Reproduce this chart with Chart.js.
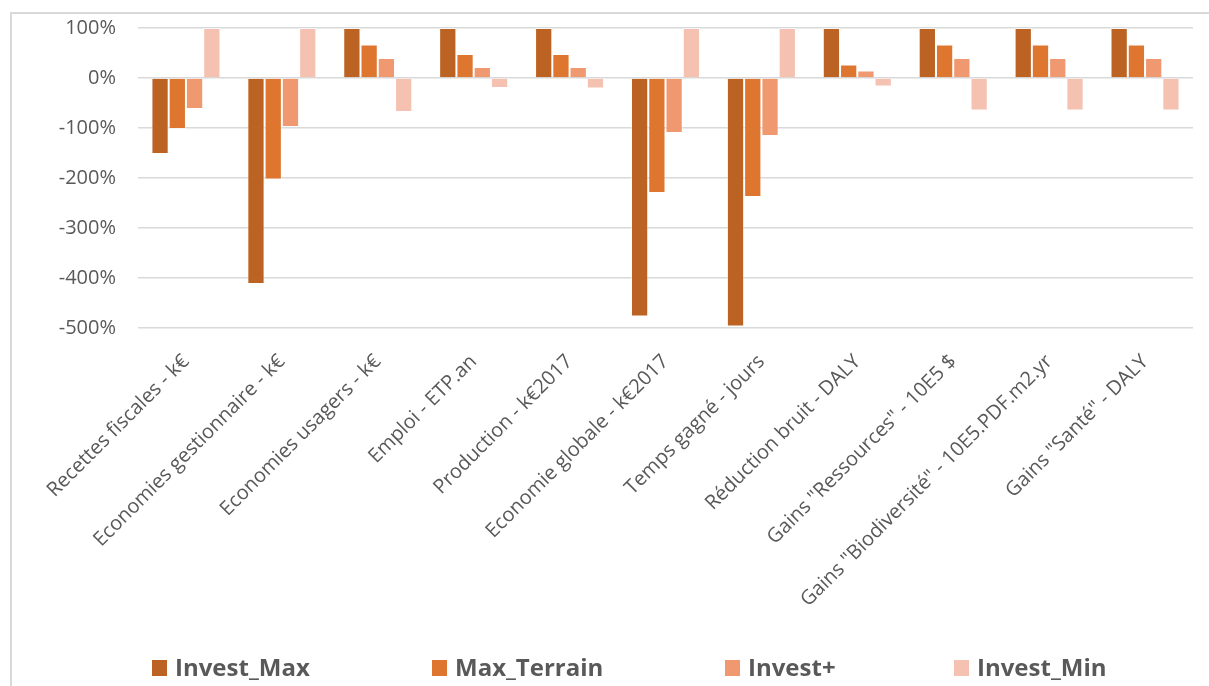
<!DOCTYPE html>
<html>
<head>
<meta charset="utf-8">
<script src="https://cdn.jsdelivr.net/npm/chart.js@4"></script>
<style>
    body { margin: 0; background: #fff; overflow: hidden; }
    #frame {
        position: absolute;
        left: 10px;
        top: 12px;
        width: 1199px;
        height: 674px;
        border-left: 2px solid #D9D9D9;
        border-top: 2px solid #D9D9D9;
    }
</style>
</head>
<body>
<div id="frame">
    <canvas id="impact-chart" width="1197" height="672"></canvas>
</div>
<script>
let categories = [
    "Recettes fiscales - k€",
    "Economies gestionnaire - k€",
    "Economies usagers - k€",
    "Emploi - ETP.an",
    "Production - k€2017",
    "Economie globale - k€2017",
    "Temps gagné - jours",
    "Réduction bruit - DALY",
    "Gains \"Ressources\" - 10E5 $",
    "Gains \"Biodiversité\" - 10E5.PDF.m2.yr",
    "Gains \"Santé\" - DALY"
];
// values in %
let investMax = [-152, -412, 100, 100, 100, -477, -497, 100, 100, 100, 100];
let maxTerrain = [-102, -203, 67, 48, 48, -230, -238, 27, 67, 67, 67];
let investPlus = [-62, -98, 40, 22, 22, -110, -116, 15, 40, 40, 40];
let investMin = [100, 100, -68, -20, -21, 100, 100, -17, -65, -65, -65];
let yTicks = [100, 0, -100, -200, -300, -400, -500];

// left edge of each legend entry (canvas px), excel spreads them unevenly
let legendX = [140, 420, 713, 942];

let impactChart;
window.onload = function () {
    drawChart();
};

// simple legend drawn at fixed slots along the bottom
const slotLegend = {
    id: "slotLegend",
    afterDraw(chart) {
        const ctx = chart.ctx;
        ctx.save();
        ctx.font = "bold 24px 'Open Sans'";
        ctx.textBaseline = "middle";
        chart.data.datasets.forEach((ds, i) => {
            const x = legendX[i];
            const y = 654;
            ctx.fillStyle = ds.backgroundColor;
            ctx.fillRect(x, y - 8, 15, 16);
            ctx.fillStyle = "#595959";
            ctx.fillText(ds.label, x + 23, y + 1);
        });
        ctx.restore();
    }
};

function drawChart() {
    impactChart = new Chart("impact-chart", {
        type: "bar",
        data: {
            labels: categories,
            datasets: [
                { label: "Invest_Max", data: investMax, backgroundColor: "#BC6222" },
                { label: "Max_Terrain", data: maxTerrain, backgroundColor: "#DF762F" },
                { label: "Invest+", data: investPlus, backgroundColor: "#F09870" },
                { label: "Invest_Min", data: investMin, backgroundColor: "#F5C2B1" }
            ]
        },
        plugins: [slotLegend],
        options: {
            responsive: false,
            animation: false,
            datasets: {
                bar: {
                    barPercentage: 1,
                    categoryPercentage: 0.72,
                    borderWidth: 1,
                    borderColor: "rgba(255,255,255,0.5)"
                }
            },
            layout: {
                padding: { top: 0, right: 16, left: 0, bottom: 48 }
            },
            plugins: {
                legend: { display: false },
                tooltip: { enabled: false }
            },
            scales: {
                x: {
                    grid: { display: false },
                    border: { display: false },
                    ticks: {
                        minRotation: 45,
                        maxRotation: 45,
                        autoSkip: false,
                        padding: 14,
                        color: "#595959",
                        font: { family: "Open Sans", size: 20 }
                    },
                    afterFit: function (scale) {
                        scale.height = 310;
                    }
                },
                y: {
                    min: -500,
                    max: 100,
                    afterBuildTicks: function (scale) {
                        scale.ticks = yTicks.map(v => ({ value: v }));
                    },
                    afterFit: function (scale) {
                        scale.width = 126;
                        // tick padding is also added above/below, undo that
                        scale.paddingTop = 14;
                        scale.paddingBottom = 14;
                    },
                    grid: { color: "#D9D9D9", lineWidth: 1.5, drawTicks: false },
                    border: { display: false },
                    ticks: {
                        padding: 22,
                        color: "#595959",
                        font: { family: "Open Sans", size: 20 },
                        callback: function (v) { return v + "%"; }
                    }
                }
            }
        }
    });
}
</script>
</body>
</html>
